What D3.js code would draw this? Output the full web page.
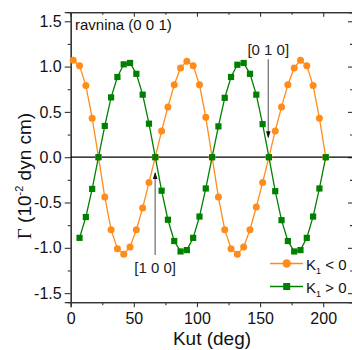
<!DOCTYPE html>
<html>
<head>
<meta charset="utf-8">
<script src="https://cdn.jsdelivr.net/npm/d3@7"></script>
<style>
  html, body { margin: 0; padding: 0; background: #fff; }
  svg { display: block; font-family: "Liberation Sans", Arial, sans-serif; }
</style>
</head>
<body>
<svg id="chart" width="352" height="350"></svg>
<script>
// ---- data ----
const anglesNeg = [2,7,12,17,22,27,32,37,42,47,52,57,62,67,72,77,82,87,92,97,102,107,112,117,122,127,132,137,142,147,152,157,162,167,172,177,182,187,192,197,202];
const valuesNeg = [1.07,1.01,0.79,0.43,0.0,-0.44,-0.80,-1.01,-1.07,-0.99,-0.80,-0.56,-0.28,0.0,0.29,0.555,0.80,0.985,1.06,1.01,0.80,0.44,0.0,-0.44,-0.80,-1.01,-1.07,-0.99,-0.80,-0.55,-0.28,0.0,0.29,0.555,0.80,0.985,1.07,1.01,0.79,0.43,0.0];
const anglesPos = [7,12,17,22,27,32,37,42,47,52,57,62,67,72,77,82,87,92,97,102,107,112,117,122,127,132,137,142,147,152,157,162,167,172,177,182,187,192,197,202];
const valuesPos = [-0.89,-0.66,-0.35,0.0,0.345,0.66,0.885,1.025,1.04,0.92,0.69,0.37,0.0,-0.37,-0.69,-0.925,-1.04,-1.025,-0.89,-0.655,-0.345,0.0,0.34,0.655,0.885,1.02,1.04,0.92,0.69,0.365,0.0,-0.375,-0.695,-0.925,-1.04,-1.025,-0.89,-0.655,-0.345,0.0];
const xTicks = [0, 50, 100, 150, 200];
const xMinor = [25, 75, 125, 175];
const yTicks = [-1.5, -1.0, -0.5, 0.0, 0.5, 1.0, 1.5];
const yMinor = [-1.25, -0.75, -0.25, 0.25, 0.75, 1.25];
const seriesLabels = ["K1 < 0", "K1 > 0"];
const annotations = [
  {label: "[0 1 0]", angle: 156.5, from: 1.08, to: 0.22},
  {label: "[1 0 0]", angle: 66.9, from: -1.08, to: -0.175}
];

const colorNeg = "#ff8c1a";
const colorPos = "#008000";

const svg = d3.select("#chart");
const L = 70.7, R = 352.5, T = 12.2, B = 302.2;
const x = d3.scaleLinear().domain([0, 223.2]).range([L, R]);
const y = d3.scaleLinear().domain([-1.6, 1.6]).range([B, T]);

const axisColor = "#333";
function styleAxis(g) {
  g.select(".domain").attr("stroke", axisColor).attr("stroke-width", 1.2);
  g.selectAll(".tick line").attr("stroke", axisColor).attr("stroke-width", 1.1);
  g.selectAll(".tick text").attr("fill", "#111").attr("font-size", 16)
    .attr("font-family", '"Liberation Sans", Arial, sans-serif');
}

// minor ticks
svg.append("g").attr("transform", `translate(0,${B})`)
  .call(d3.axisBottom(x).tickValues(xMinor).tickSize(3).tickFormat(""))
  .call(styleAxis);
svg.append("g").attr("transform", `translate(0,${T})`)
  .call(d3.axisBottom(x).tickValues(xMinor).tickSize(2.5).tickFormat(""))
  .call(styleAxis);
svg.append("g").attr("transform", `translate(${L},0)`)
  .call(d3.axisLeft(y).tickValues(yMinor).tickSize(3).tickFormat(""))
  .call(styleAxis);
svg.append("g").attr("transform", `translate(${R},0)`)
  .call(d3.axisLeft(y).tickValues(yMinor).tickSize(2.5).tickFormat(""))
  .call(styleAxis);

// major axes
svg.append("g").attr("transform", `translate(0,${B})`)
  .call(d3.axisBottom(x).tickValues(xTicks).tickSize(5).tickPadding(5).tickFormat(d3.format("d")))
  .call(styleAxis);
svg.append("g").attr("transform", `translate(0,${T})`)
  .call(d3.axisBottom(x).tickValues(xTicks).tickSize(4.5).tickFormat(""))
  .call(styleAxis);
svg.append("g").attr("transform", `translate(${L},0)`)
  .call(d3.axisLeft(y).tickValues(yTicks).tickSize(6).tickPadding(3).tickFormat(d3.format(".1f")))
  .call(styleAxis);
svg.append("g").attr("transform", `translate(${R},0)`)
  .call(d3.axisLeft(y).tickValues(yTicks).tickSize(4.5).tickFormat(""))
  .call(styleAxis);

svg.selectAll("g .tick text").filter(function(){ return this.textContent.startsWith("−"); })
  .text(function(){ return this.textContent.replace("−", "-"); });

// zero line
svg.append("line")
  .attr("x1", L).attr("x2", R).attr("y1", y(0)).attr("y2", y(0))
  .attr("stroke", "#000").attr("stroke-width", 1.2);

// annotations
annotations.forEach(a => {
  const ax = x(a.angle);
  svg.append("line").attr("x1", ax).attr("x2", ax)
    .attr("y1", y(a.from)).attr("y2", y(a.to))
    .attr("stroke", "#777").attr("stroke-width", 1.3);
  const tip = y(a.to);
  const dir = y(a.to) > y(a.from) ? 1 : -1;
  svg.append("path")
    .attr("d", `M${ax},${tip + dir*1} L${ax-2.3},${tip - dir*6} L${ax+2.3},${tip - dir*6} Z`)
    .attr("fill", "#111");
  const ty = dir === 1 ? y(a.from) - 4 : y(a.from) + 18;
  svg.append("text").attr("x", ax).attr("y", ty)
    .attr("text-anchor", "middle").attr("font-size", 15).attr("fill", "#222")
    .text(a.label);
});

// series lines
const line = d3.line().x(d => x(d[0])).y(d => y(d[1]));
const negData = anglesNeg.map((a, i) => [a, valuesNeg[i]]);
const posData = anglesPos.map((a, i) => [a, valuesPos[i]]);

svg.append("path").datum(negData).attr("d", line)
  .attr("fill", "none").attr("stroke", colorNeg).attr("stroke-width", 1.3);
svg.selectAll("circle.neg").data(negData).enter().append("circle")
  .attr("class", "neg").attr("cx", d => x(d[0])).attr("cy", d => y(d[1]))
  .attr("r", 3.5).attr("fill", colorNeg);

svg.append("path").datum(posData).attr("d", line)
  .attr("fill", "none").attr("stroke", colorPos).attr("stroke-width", 1.3);
const sq = 6.2;
svg.selectAll("rect.pos").data(posData).enter().append("rect")
  .attr("class", "pos").attr("x", d => x(d[0]) - sq/2).attr("y", d => y(d[1]) - sq/2)
  .attr("width", sq).attr("height", sq).attr("fill", colorPos);

// text label in plot
svg.append("text").attr("x", 75).attr("y", 30).attr("font-size", 15).attr("fill", "#111")
  .text("ravnina (0 0 1)");

// legend
const legend = [
  {label: seriesLabels[0], color: colorNeg, shape: "circle", y: 263.5, sign: "<"},
  {label: seriesLabels[1], color: colorPos, shape: "square", y: 286.5, sign: ">"}
];
legend.forEach(l => {
  svg.append("line").attr("x1", 270).attr("x2", 303).attr("y1", l.y).attr("y2", l.y)
    .attr("stroke", l.color).attr("stroke-width", 1.3);
  if (l.shape === "circle") {
    svg.append("circle").attr("cx", 286.7).attr("cy", l.y).attr("r", 4.2).attr("fill", l.color);
  } else {
    svg.append("rect").attr("x", 286.7 - 3.5).attr("y", l.y - 3.5).attr("width", 7).attr("height", 7).attr("fill", l.color);
  }
  const t = svg.append("text").attr("x", 306).attr("y", l.y + 6).attr("font-size", 15).attr("fill", "#111");
  t.append("tspan").text("K");
  t.append("tspan").attr("font-size", 9).attr("dy", 4).text("1");
  t.append("tspan").attr("dy", -4).text(" " + l.sign + " 0");
});

// axis titles
svg.append("text").attr("x", 212).attr("y", 345).attr("text-anchor", "middle")
  .attr("font-size", 19).attr("fill", "#111").text("Kut (deg)");

const yt = svg.append("text").attr("transform", "translate(31,176) rotate(-90)")
  .attr("text-anchor", "middle").attr("font-size", 19).attr("fill", "#111");
yt.append("tspan").attr("font-family", '"Liberation Serif", "Times New Roman", serif').text("Γ");
yt.append("tspan").text(" (10");
yt.append("tspan").attr("font-size", 11).attr("dy", -8).text("-2");
yt.append("tspan").attr("dy", 8).text(" dyn cm)");
</script>
</body>
</html>
